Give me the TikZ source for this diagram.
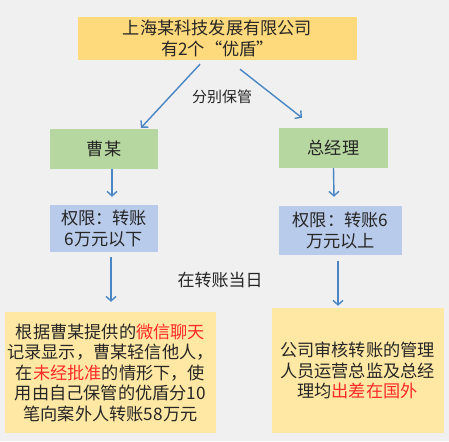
\documentclass[tikz,border=0pt]{standalone}
\usepackage{fontspec}
\setmainfont{Noto Sans CJK SC}
\usepackage{xcolor}
\usetikzlibrary{arrows.meta}
\definecolor{bgray}{HTML}{F0F0F0}
\definecolor{goldbox}{HTML}{FFDA7C}
\definecolor{greenbox}{HTML}{B6D79F}
\definecolor{bluebox}{HTML}{B9CBEA}
\definecolor{paleyellow}{HTML}{FFE8A3}
\definecolor{arrblue}{HTML}{4A86C4}
\definecolor{txt}{HTML}{262626}
\definecolor{redtxt}{HTML}{FF2A2A}

\begin{document}
\begin{tikzpicture}[x=1pt, y=-1pt,
    box/.style={inner sep=0pt, align=center, text=txt, font=\fontsize{17.2}{20.5}\selectfont},
    lbl/.style={inner sep=0pt, text=txt},
    arr/.style={draw=arrblue, line width=1.4pt, -{Straight Barb[length=4.5pt,width=10pt]}}]
    \fill[bgray] (0,0) rectangle (449,441);
    \useasboundingbox (0,0) rectangle (449,441);

    % boxes
    \node[box, fill=goldbox, minimum width=279pt, minimum height=43pt] (firm) at (217.5,38.5)
        {上海某科技发展有限公司\\有2个“优盾”};
    \node[box, fill=greenbox, minimum width=108pt, minimum height=40pt] (cao) at (104,149) {曹某};
    \node[box, fill=greenbox, minimum width=109pt, minimum height=40pt] (gm) at (333.5,148) {总经理};
    \node[box, fill=bluebox, minimum width=108pt, minimum height=47pt] (limlow) at (104,228.5)
        {权限：转账\\6万元以下};
    \node[box, fill=bluebox, minimum width=123pt, minimum height=49pt] (limhigh) at (340.5,230.5)
        {权限：转账6\\万元以上};
    \node[box, fill=paleyellow, minimum width=211pt, minimum height=121pt] (caseL) at (110.5,372.5)
        {根据曹某提供的\textcolor{redtxt}{微信聊天}\\记录显示，曹某轻信他人，\\在\textcolor{redtxt}{未经批准}的情形下，使\\用由自己保管的优盾分10\\笔向案外人转账58万元};
    \node[box, fill=paleyellow, minimum width=172pt, minimum height=125pt] (caseR) at (357.5,370.5)
        {公司审核转账的管理\\人员运营总监及总经\\理均\textcolor{redtxt}{出差在国外}};

    % labels
    \node[lbl, font=\fontsize{15}{18}\selectfont] (keep) at (222,97) {分别保管};
    \node[lbl, font=\fontsize{17}{20}\selectfont] (day) at (220,280) {在转账当日};

    % arrows
    \draw[arr] ([xshift=-17.5pt,yshift=-4pt]firm.south) -- ([xshift=37pt,yshift=1pt]cao.north);
    \draw[arr] ([xshift=22.5pt,yshift=-9pt]firm.south) -- ([xshift=-31.5pt,yshift=10pt]gm.north);
    \draw[arr] ([xshift=8pt]cao.south) -- ([xshift=8pt,yshift=8pt]limlow.north);
    \draw[arr] (gm.south) -- ([xshift=-6.5pt,yshift=9pt]limhigh.north);
    \draw[arr] ([xshift=7pt,yshift=-5pt]limlow.south) -- ([xshift=0.5pt,yshift=10pt]caseL.north);
    \draw[arr] ([xshift=-2.5pt,yshift=-6pt]limhigh.south) -- ([xshift=-19.5pt,yshift=2pt]caseR.north);
\end{tikzpicture}
\end{document}
